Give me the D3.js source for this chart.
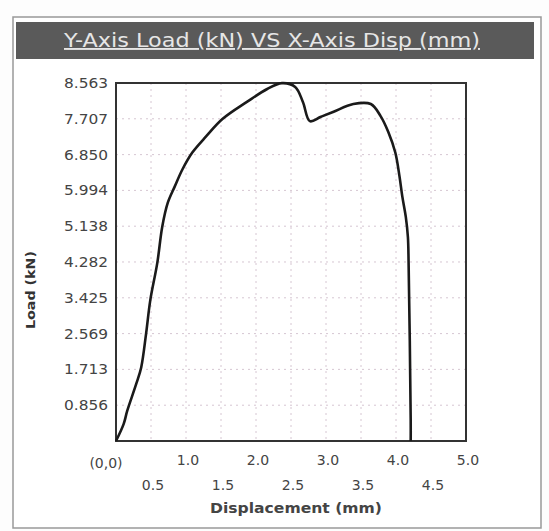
<!DOCTYPE html>
<html>
<head>
<meta charset="utf-8">
<script src="https://cdn.jsdelivr.net/npm/d3@7"></script>
<style>
  body { margin: 0; background: #fdfdfd; }
  svg { display: block; }
</style>
</head>
<body>
<div id="chart"></div>
<script>
// load-displacement curve
var dispValues = [0, 0.11, 0.16, 0.29, 0.36, 0.43, 0.49, 0.59, 0.66, 0.74, 0.84, 0.95, 1.09, 1.29, 1.52, 1.87, 2.16, 2.37,
                  2.56, 2.67, 2.77, 2.92, 3.10, 3.39, 3.64, 3.78, 3.89, 3.99, 4.05, 4.09, 4.14, 4.17, 4.18, 4.21, 4.21];
var loadValues = [0, 0.41, 0.72, 1.37, 1.76, 2.57, 3.37, 4.26, 5.12, 5.70, 6.09, 6.50, 6.90, 7.29, 7.70, 8.11, 8.42, 8.56,
                  8.47, 8.11, 7.65, 7.75, 7.87, 8.06, 8.06, 7.77, 7.39, 6.90, 6.33, 5.85, 5.36, 4.88, 4.26, 0.5, 0];

var yTickLabels = ["0.856", "1.713", "2.569", "3.425", "4.282", "5.138", "5.994", "6.850", "7.707", "8.563"];
var xTicksTop = [1.0, 2.0, 3.0, 4.0, 5.0];
var xTicksBottom = [0.5, 1.5, 2.5, 3.5, 4.5];
var yMax = 8.563;

var W = 549, H = 531;
var plot = { left: 116, right: 466, top: 83, bottom: 441 };

var svg = d3.select("#chart").append("svg")
    .attr("width", W)
    .attr("height", H);

// outer frame
svg.append("rect")
    .attr("x", 13).attr("y", 17)
    .attr("width", 528).attr("height", 511)
    .attr("fill", "#fff")
    .attr("stroke", "#999")
    .attr("stroke-width", 1.5);

// title bar
svg.append("rect")
    .attr("x", 16).attr("y", 22)
    .attr("width", 518).attr("height", 37)
    .attr("fill", "#5a5a5a");

svg.append("text")
    .attr("x", 272).attr("y", 47)
    .attr("text-anchor", "middle")
    .attr("font-family", "DejaVu Sans, sans-serif")
    .attr("font-size", 19)
    .attr("fill", "#e6e6e6")
    .attr("text-decoration", "underline")
    .attr("textLength", 416)
    .attr("lengthAdjust", "spacingAndGlyphs")
    .text("Y-Axis Load (kN) VS X-Axis Disp (mm)");

var x = d3.scaleLinear().domain([0, 5]).range([plot.left, plot.right]);
var y = d3.scaleLinear().domain([0, yMax]).range([plot.bottom, plot.top]);

// grid
var grid = svg.append("g")
    .attr("stroke", "#d6c6d2")
    .attr("stroke-width", 1)
    .attr("stroke-dasharray", "2,4");

grid.selectAll("line.v")
    .data(xTicksTop.concat(xTicksBottom))
    .enter().append("line")
    .attr("class", "v")
    .attr("x1", d => x(d)).attr("x2", d => x(d))
    .attr("y1", plot.top).attr("y2", plot.bottom);

grid.selectAll("line.h")
    .data(yTickLabels)
    .enter().append("line")
    .attr("class", "h")
    .attr("x1", plot.left).attr("x2", plot.right)
    .attr("y1", d => y(+d)).attr("y2", d => y(+d));

// plot border
svg.append("rect")
    .attr("x", plot.left).attr("y", plot.top)
    .attr("width", plot.right - plot.left)
    .attr("height", plot.bottom - plot.top)
    .attr("fill", "none")
    .attr("stroke", "#333")
    .attr("stroke-width", 2);

// curve
var points = dispValues.map((d, i) => [d, loadValues[i]]);
var line = d3.line()
    .x(d => x(d[0]))
    .y(d => y(d[1]))
    .curve(d3.curveCatmullRom.alpha(0.5));

svg.append("path")
    .datum(points)
    .attr("d", line)
    .attr("fill", "none")
    .attr("stroke", "#1a1a1a")
    .attr("stroke-width", 2.6)
    .attr("stroke-linejoin", "round");

// y tick labels
svg.append("g")
    .attr("font-family", "DejaVu Sans, sans-serif")
    .attr("font-size", 14)
    .attr("fill", "#444")
    .attr("text-anchor", "end")
    .selectAll("text")
    .data(yTickLabels)
    .enter().append("text")
    .attr("x", 108)
    .attr("y", d => y(+d) + 5)
    .attr("textLength", 44)
    .attr("lengthAdjust", "spacingAndGlyphs")
    .text(d => d);

// x tick labels, two staggered rows
var xLab = svg.append("g")
    .attr("font-family", "DejaVu Sans, sans-serif")
    .attr("font-size", 14)
    .attr("fill", "#444")
    .attr("text-anchor", "middle");

xLab.selectAll("text.top")
    .data(xTicksTop)
    .enter().append("text")
    .attr("class", "top")
    .attr("x", d => x(d) + 2)
    .attr("y", 465)
    .text(d => d.toFixed(1));

xLab.selectAll("text.bot")
    .data(xTicksBottom)
    .enter().append("text")
    .attr("class", "bot")
    .attr("x", d => x(d) + 2)
    .attr("y", 490)
    .text(d => d.toFixed(1));

xLab.append("text")
    .attr("x", 106)
    .attr("y", 468)
    .text("(0,0)");

// axis titles
svg.append("text")
    .attr("x", 296).attr("y", 513)
    .attr("text-anchor", "middle")
    .attr("font-family", "DejaVu Sans, sans-serif")
    .attr("font-size", 14)
    .attr("font-weight", "bold")
    .attr("fill", "#444")
    .attr("textLength", 172)
    .attr("lengthAdjust", "spacingAndGlyphs")
    .text("Displacement (mm)");

svg.append("text")
    .attr("transform", "translate(35,290) rotate(-90)")
    .attr("text-anchor", "middle")
    .attr("font-family", "DejaVu Sans, sans-serif")
    .attr("font-size", 13)
    .attr("font-weight", "bold")
    .attr("fill", "#333")
    .attr("textLength", 78)
    .attr("lengthAdjust", "spacingAndGlyphs")
    .text("Load (kN)");
</script>
</body>
</html>
